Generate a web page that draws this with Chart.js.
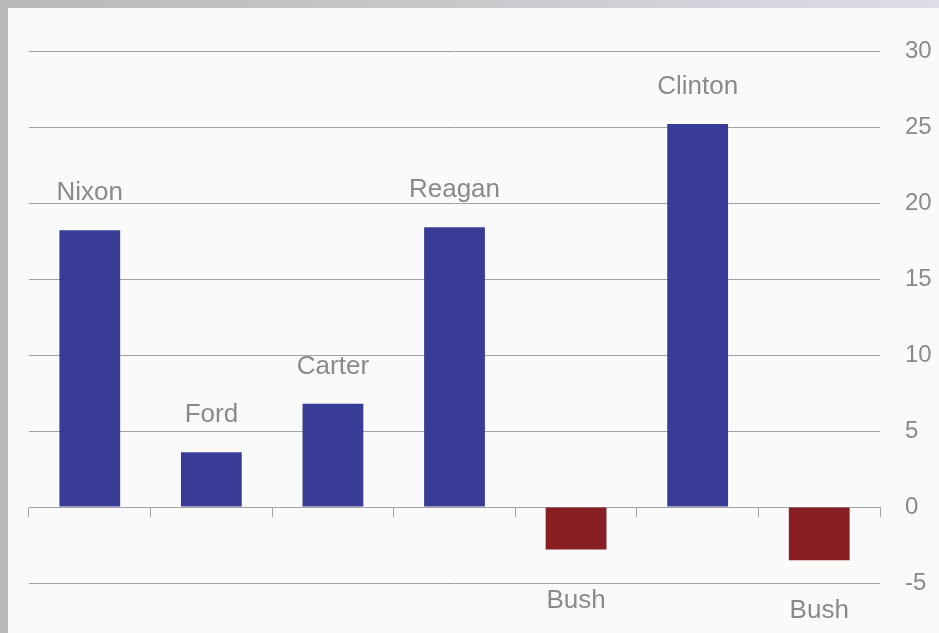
<!DOCTYPE html>
<html>
<head>
<meta charset="utf-8">
<script src="https://cdn.jsdelivr.net/npm/chart.js@4"></script>
<style>
    html, body { margin: 0; padding: 0; background: #fafafa; }
    .frame {
        position: relative;
        width: 939px;
        height: 633px;
        background: #fafafa;
        overflow: hidden;
    }
    .frame .top {
        position: absolute; left: 0; top: 0; width: 939px; height: 8px;
        background: linear-gradient(to right, #b9b9b9, #c9c9cc 50%, #dcdde9);
    }
    .frame .left {
        position: absolute; left: 0; top: 0; width: 8px; height: 633px;
        background: #bababa;
    }
    #termChart { position: absolute; left: 0; top: 0; }
</style>
</head>
<body>
<div class="frame">
    <div class="top"></div>
    <div class="left"></div>
    <canvas id="termChart" width="939" height="633"></canvas>
</div>
<script>
const presidents = ['Nixon', 'Ford', 'Carter', 'Reagan', 'Bush', 'Clinton', 'Bush'];
const changes = [18.2, 3.6, 6.8, 18.4, -2.8, 25.2, -3.5];
const yTicks = [-5, 0, 5, 10, 15, 20, 25, 30];

const blue = '#393c96';
const red = '#861e22';
const grey = '#a3a3a3';
const textGrey = '#8a8a8a';

// names written over positive bars and under negative ones
const nameLabels = {
    id: 'nameLabels',
    afterDatasetsDraw(chart) {
        const ctx = chart.ctx;
        const meta = chart.getDatasetMeta(0);
        ctx.save();
        ctx.font = '26px "Liberation Sans", Arial, sans-serif';
        ctx.fillStyle = textGrey;
        ctx.textAlign = 'center';
        ctx.textBaseline = 'alphabetic';
        meta.data.forEach(function(bar, i){
            const v = changes[i];
            const y = v >= 0 ? bar.y - 30 : bar.y + 58;
            ctx.fillText(presidents[i], bar.x, y);
        });
        ctx.restore();
    }
};

const ctx = document.getElementById('termChart').getContext('2d');
const termChart = new Chart(ctx, {
    type: 'bar',
    data: {
        labels: presidents,
        datasets: [{
            data: changes,
            backgroundColor: changes.map(v => v >= 0 ? blue : red),
            barPercentage: 0.5,
            categoryPercentage: 1.0,
            borderWidth: 0
        }]
    },
    options: {
        responsive: false,
        animation: false,
        layout: { padding: { left: 29, right: 7, top: 51, bottom: 50 } },
        plugins: {
            legend: { display: false },
            tooltip: { enabled: false }
        },
        scales: {
            x: {
                position: { y: 0 },
                grid: {
                    offset: true,
                    drawOnChartArea: false,
                    drawTicks: true,
                    tickLength: 9,
                    color: grey,
                    lineWidth: 1
                },
                border: { display: true, color: grey, width: 1 },
                ticks: { display: false }
            },
            y: {
                position: 'right',
                min: -5,
                max: 30,
                afterBuildTicks(axis) {
                    axis.ticks = yTicks.map(v => ({ value: v }));
                },
                afterFit(axis) {
                    axis.width = 52;
                },
                grid: {
                    color: grey,
                    lineWidth: 1,
                    drawTicks: false
                },
                border: { display: false },
                ticks: {
                    padding: 25,
                    color: textGrey,
                    font: { family: '"Liberation Sans", Arial, sans-serif', size: 24 }
                }
            }
        }
    },
    plugins: [nameLabels]
});
</script>
</body>
</html>
